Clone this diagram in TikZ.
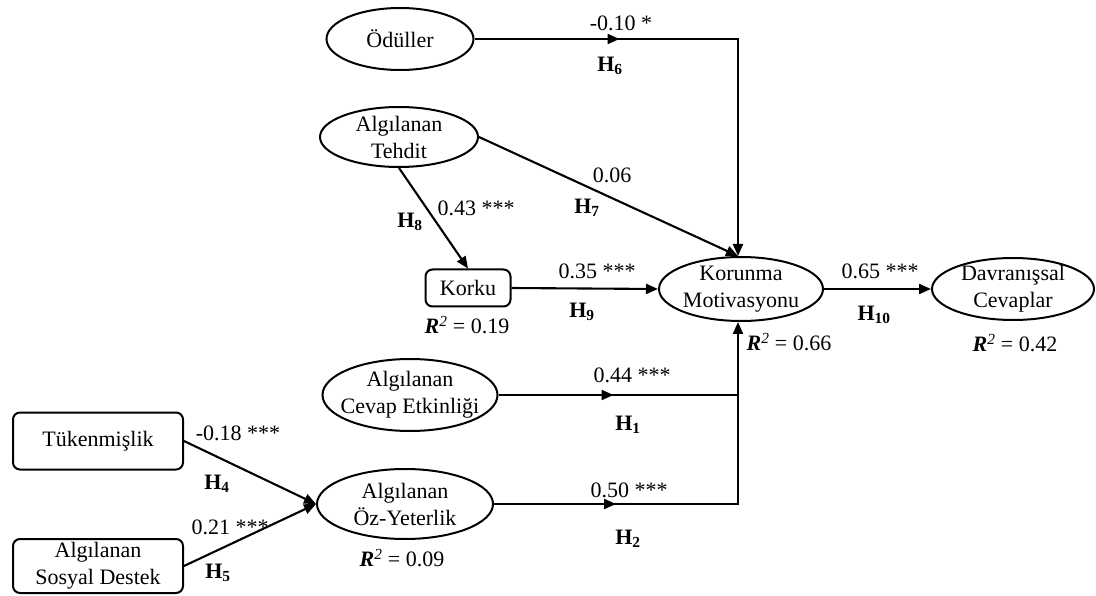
\documentclass[tikz,border=0pt]{standalone}
\usepackage{fontspec}
\setmainfont{Liberation Serif}
\usetikzlibrary{shapes.geometric,arrows.meta,decorations.markings}
\begin{document}
\begin{tikzpicture}[x=1pt,y=-1pt,
  font=\fontsize{22}{27}\selectfont,
  oval/.style={draw,ellipse,line width=2pt,inner sep=0pt},
  box/.style={draw,rectangle,rounded corners=7pt,line width=2pt,align=center,inner sep=2pt},
  txt/.style={inner sep=0pt,align=center},
  wire/.style={line width=2.1pt},
  link/.style={wire,-{Triangle[length=12pt,width=10pt]}},
  midtip/.style={postaction={decorate},decoration={markings,
     mark=at position #1 with {\arrow{Triangle[length=12pt,width=10pt]}}}},
]
\fill[white] (0,0) rectangle (1096,596);
\useasboundingbox (0,0) rectangle (1096,596);

% constructs
\node[oval,minimum width=147pt,minimum height=62pt,label={[txt]center:Ödüller}] (odu) at (400,39) {};
\node[oval,minimum width=158pt,minimum height=60pt,label={[txt]center:Algılanan\\Tehdit}] (teh) at (399,137) {};
\node[box,minimum width=85pt,minimum height=37pt] (kork) at (468,288) {Korku};
\node[oval,minimum width=164pt,minimum height=64pt,label={[txt]center:Korunma\\Motivasyonu}] (kor) at (741,289) {};
\node[oval,minimum width=162pt,minimum height=62pt,label={[txt]center:Davranışsal\\Cevaplar}] (dav) at (1013,289) {};
\node[oval,minimum width=175pt,minimum height=72pt,label={[txt]center:Algılanan\\Cevap Etkinliği}] (cev) at (410,395) {};
\node[oval,minimum width=176pt,minimum height=70pt,label={[txt]center:Algılanan\\Öz-Yeterlik}] (oz) at (405,504) {};
\node[box,minimum width=170pt,minimum height=57pt] (tuk) at (98,441) {Tükenmişlik};
\node[box,minimum width=170pt,minimum height=54pt] (sos) at (98,566) {Algılanan\\Sosyal Destek};

% junction points of the orthogonal connectors
\coordinate (j0) at (738,39);
\coordinate (j1) at (738,395);
\coordinate (j2) at (738,504);

% paths
\draw[link,midtip=145pt] (odu.east) -- (j0) -- (j0 |- kor.north);
\draw[link] (teh.east) -- (j0 |- kor.north);
\draw[link] (teh.south) -- (kork.north);
\draw[link] (kork.east) -- (kor.west);
\draw[link] (kor.east) -- (dav.west);
\draw[link,midtip=115pt] (cev.east) -- (j1) -- (j1 |- kor.south);
\draw[wire,midtip=122pt] (oz.east) -- (j2) -- (j1);
\draw[link] (tuk.east) -- (oz.west);
\draw[link] (sos.east) -- (oz.west);

% coefficients and hypotheses
\node[txt] (c6) at (621,23) {-0.10 *};
\node[txt] (h6) at (610,66) {\textbf{H\textsubscript{6}}};
\node[txt] (c7) at (612,175) {0.06};
\node[txt] (h7) at (587,208) {\textbf{H\textsubscript{7}}};
\node[txt] (c8) at (476,208) {0.43 ***};
\node[txt] (h8) at (410,222) {\textbf{H\textsubscript{8}}};
\node[txt] (c9) at (597,271) {0.35 ***};
\node[txt] (h9) at (582,312) {\textbf{H\textsubscript{9}}};
\node[txt] (c10) at (880,271) {0.65 ***};
\node[txt] (h10) at (874,315) {\textbf{H\textsubscript{10}}};
\node[txt] (c1) at (632,375) {0.44 ***};
\node[txt] (h1) at (628,425) {\textbf{H\textsubscript{1}}};
\node[txt] (c2) at (629,490) {0.50 ***};
\node[txt] (h2) at (628,539) {\textbf{H\textsubscript{2}}};
\node[txt] (c4) at (238,433) {-0.18 ***};
\node[txt] (h4) at (217,484) {\textbf{H\textsubscript{4}}};
\node[txt] (c5) at (230,527) {0.21 ***};
\node[txt] (h5) at (218,573) {\textbf{H\textsubscript{5}}};

% explained variance
\node[txt] (r1) at (467,325) {\textbf{\textit{R}}\textsuperscript{\textit{2}} = 0.19};
\node[txt] (r2) at (789,342) {\textbf{\textit{R}}\textsuperscript{\textit{2}} = 0.66};
\node[txt] (r3) at (1015,343) {\textbf{\textit{R}}\textsuperscript{\textit{2}} = 0.42};
\node[txt] (r4) at (402,558) {\textbf{\textit{R}}\textsuperscript{\textit{2}} = 0.09};
\end{tikzpicture}
\end{document}
